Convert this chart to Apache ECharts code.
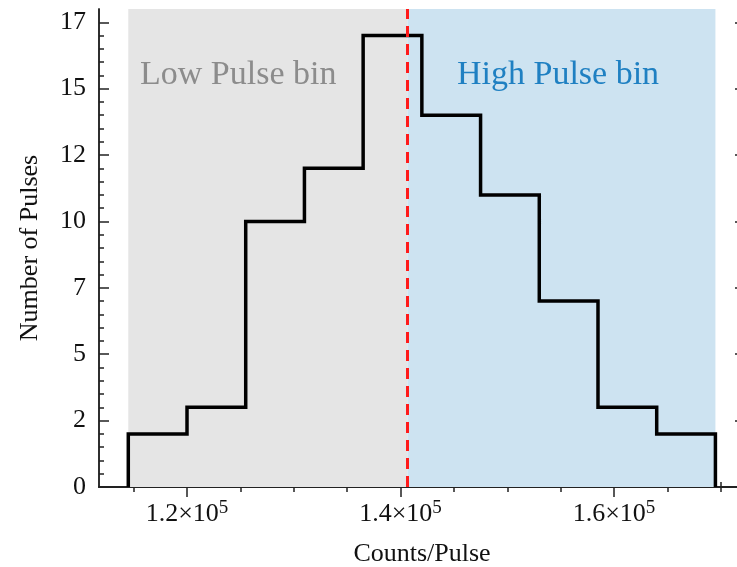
<!DOCTYPE html>
<html>
<head>
<meta charset="utf-8">
<script src="https://cdn.jsdelivr.net/npm/echarts@6/dist/echarts.min.js"></script>
<style>
  html, body { margin: 0; padding: 0; background: #fff; }
  #chart { width: 737px; height: 567px; }
</style>
</head>
<body>
<div id="chart"></div>
<script>
// Histogram of counts per pulse, split at the threshold into low/high bins
const binEdges = [114500, 120000, 125500, 131000, 136500, 142000, 147500, 153000, 158500, 164000, 169500];
const binCounts = [2, 3, 10, 12, 17, 14, 11, 7, 3, 2];
const threshold = 140650;

const xMajorTicks = [120000, 140000, 160000];
const xMinorTicks = [115000, 125000, 130000, 135000, 145000, 150000, 155000, 165000, 170000];
const yMajorTicks = [0, 2.5, 5, 7.5, 10, 12.5, 15, 17.5];

const X_MIN = 111756, X_MAX = 172271, Y_MIN = 0, Y_MAX = 18;

// minor y ticks every 0.5 between the majors
const yMinorTicks = [];
for (let i = 1; i < 36; i++) { if (i % 5 !== 0) yMinorTicks.push(i * 0.5); }

// step outline: start and end at zero
const stepData = [[binEdges[0], 0]];
binCounts.forEach((c, i) => stepData.push([binEdges[i], c]));
stepData.push([binEdges[binEdges.length - 1], binCounts[binCounts.length - 1]]);
stepData.push([binEdges[binEdges.length - 1], 0]);

const FONT = 'Liberation Serif';
const AXIS_COLOR = '#222';

function xAxisDef(position, ticks, len, withLabels) {
  return {
    type: 'value', position: position, min: X_MIN, max: X_MAX,
    axisLine: { show: true, lineStyle: { color: AXIS_COLOR, width: 1.5 } },
    axisTick: { show: true, inside: true, length: len, customValues: ticks, lineStyle: { color: AXIS_COLOR, width: 1.5 } },
    axisLabel: withLabels ? {
      show: true, margin: 12, customValues: ticks,
      formatter: v => '{b|' + (v / 1e5).toFixed(1) + '×10}{s|5}',
      rich: {
        b: { fontFamily: FONT, fontSize: 26, color: '#111', lineHeight: 30 },
        s: { fontFamily: FONT, fontSize: 19, color: '#111', verticalAlign: 'top', lineHeight: 14, padding: [0, 0, 18, 0] }
      }
    } : { show: false },
    splitLine: { show: false }
  };
}

function yAxisDef(position, ticks, len, withLabels) {
  return {
    type: 'value', position: position, min: Y_MIN, max: Y_MAX,
    axisLine: { show: true, lineStyle: { color: AXIS_COLOR, width: 1.5 } },
    axisTick: { show: true, inside: true, length: len, customValues: ticks, lineStyle: { color: AXIS_COLOR, width: 1.5 } },
    axisLabel: withLabels ? {
      show: true, margin: 13, customValues: ticks,
      fontFamily: FONT, fontSize: 26, color: '#111',
      formatter: v => String(Math.floor(v))
    } : { show: false },
    splitLine: { show: false }
  };
}

const xMain = xAxisDef('bottom', xMajorTicks, 10, true);
xMain.name = 'Counts/Pulse';
xMain.nameLocation = 'middle';
xMain.nameGap = 50;
xMain.nameTextStyle = { fontFamily: FONT, fontSize: 26, color: '#111' };

const yMain = yAxisDef('left', yMajorTicks, 10, true);
yMain.name = 'Number of Pulses';
yMain.nameLocation = 'middle';
yMain.nameGap = 56;
yMain.nameTextStyle = { fontFamily: FONT, fontSize: 26, color: '#111' };

const chart = echarts.init(document.getElementById('chart'), null, { renderer: 'canvas' });

chart.setOption({
  animation: false,
  backgroundColor: '#fff',
  grid: { left: 99, top: 9, width: 646, height: 478, containLabel: false, outerBoundsMode: 'none' },
  xAxis: [
    xMain,
    xAxisDef('bottom', xMinorTicks, 5, false),
    xAxisDef('top', xMajorTicks, 10, false),
    xAxisDef('top', xMinorTicks, 5, false)
  ],
  yAxis: [
    yMain,
    yAxisDef('left', yMinorTicks, 5, false),
    yAxisDef('right', yMajorTicks, 10, false),
    yAxisDef('right', yMinorTicks, 5, false)
  ],
  series: [{
    type: 'line',
    xAxisIndex: 0, yAxisIndex: 0,
    step: 'end',
    data: stepData,
    symbol: 'none',
    lineStyle: { color: '#000', width: 3.5, join: 'miter' },
    z: 3,
    markArea: {
      silent: true,
      data: [
        [{ xAxis: binEdges[0], itemStyle: { color: '#e5e5e5' } }, { xAxis: threshold }],
        [{ xAxis: threshold, itemStyle: { color: '#cde3f1' } }, { xAxis: binEdges[binEdges.length - 1] }]
      ]
    },
    markLine: {
      silent: true,
      symbol: 'none',
      label: { show: false },
      lineStyle: { color: '#ff1a1a', width: 3, type: [11, 7] },
      data: [{ xAxis: threshold }]
    }
  }],
  graphic: [
    {
      type: 'text', left: 140, top: 58, z: 10,
      style: { text: 'Low Pulse bin', fontFamily: FONT, fontSize: 34, fill: '#8c8c8c' }
    },
    {
      type: 'text', left: 457, top: 58, z: 10,
      style: { text: 'High Pulse bin', fontFamily: FONT, fontSize: 34, fill: '#1f80c2' }
    }
  ]
});
</script>
</body>
</html>
